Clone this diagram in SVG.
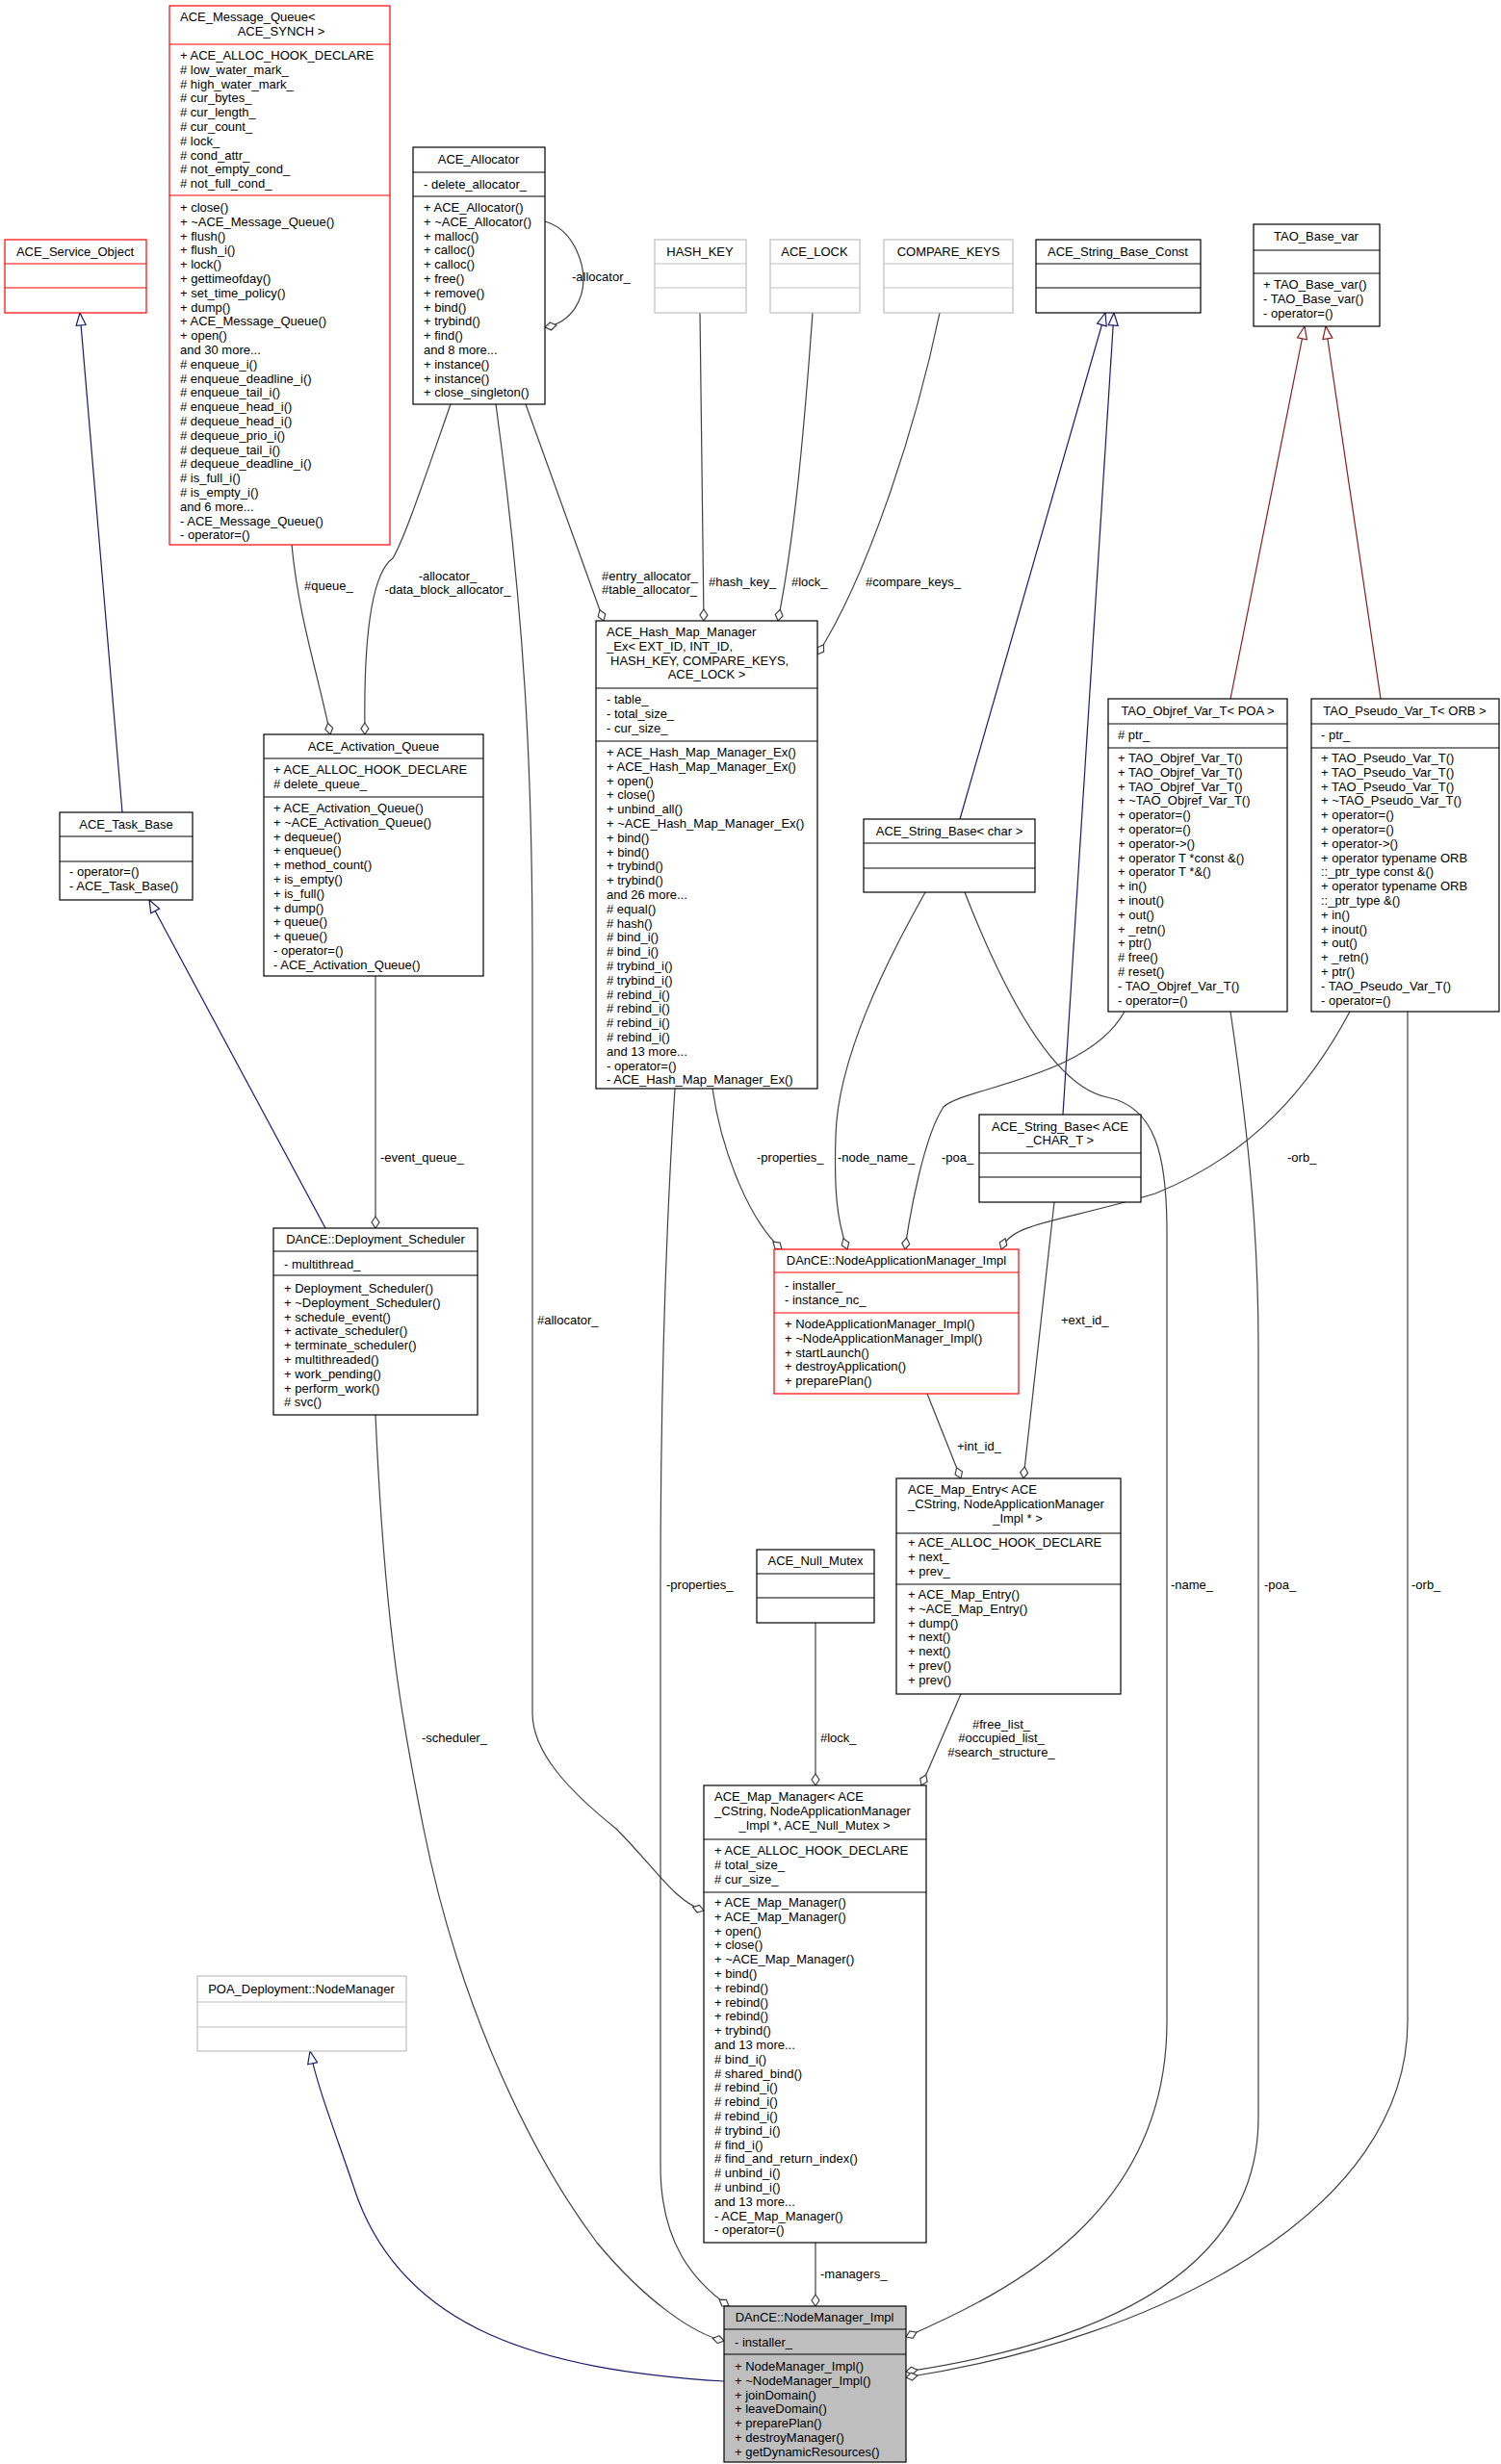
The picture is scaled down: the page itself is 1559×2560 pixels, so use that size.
<svg xmlns="http://www.w3.org/2000/svg" width="1559" height="2560" viewBox="0 0 1559 2560">
<style>
text{font-family:"Liberation Sans",Arial,sans-serif;font-size:13px;fill:#000}
.c{text-anchor:middle}
.bx{fill:#fff;stroke:#000;stroke-width:1.2}
.rd{fill:#fff;stroke:#ff0000;stroke-width:1.2}
.gr{fill:#fff;stroke:#bfbfbf;stroke-width:1.2}
.sl{stroke:#000;stroke-width:1.2}
.sr{stroke:#ff0000;stroke-width:1.2}
.sg{stroke:#bfbfbf;stroke-width:1.2}
.ag{fill:none;stroke:#404040;stroke-width:1.2;marker-end:url(#dia)}
.in{fill:none;stroke:#191970;stroke-width:1.2;marker-end:url(#tri)}
.ir{fill:none;stroke:#8b1a1a;stroke-width:1.2;marker-end:url(#trr)}
</style>
<defs>
<marker id="dia" markerUnits="userSpaceOnUse" orient="auto" refX="0" refY="0" overflow="visible" markerWidth="14" markerHeight="10"><path d="M0,0 L-6,-4 L-12,0 L-6,4 Z" fill="#fff" stroke="#404040" stroke-width="1.2"/></marker>
<marker id="tri" markerUnits="userSpaceOnUse" orient="auto" refX="0" refY="0" overflow="visible" markerWidth="14" markerHeight="10"><path d="M0,0 L-13,-5 L-13,5 Z" fill="#fff" stroke="#191970" stroke-width="1.2"/></marker>
<marker id="trr" markerUnits="userSpaceOnUse" orient="auto" refX="0" refY="0" overflow="visible" markerWidth="14" markerHeight="10"><path d="M0,0 L-13,-5 L-13,5 Z" fill="#fff" stroke="#8b1a1a" stroke-width="1.2"/></marker>
</defs>
<rect width="1559" height="2560" fill="#fff"/>

<g id="edges">
<path class="in" d="M127,844 L83,325"/>
<path class="in" d="M338,1276 L155,935"/>
<path class="in" d="M997,851 L1148,325"/>
<path class="in" d="M1104,1158 L1157,325"/>
<path class="ir" d="M1278,726 L1355,339"/>
<path class="ir" d="M1434,726 L1377,339"/>
<path class="in" d="M752,2474 C560,2462 420,2420 370,2280 C350,2220 330,2170 322,2131"/>
<path class="ag" d="M303,566 C310,640 330,700 343,763"/>
<path class="ag" d="M468,420 C440,500 420,560 408,580 C380,600 378,700 379,763"/>
<path class="ag" d="M566,230 C600,240 606,280 606,290 C606,310 595,335 566,340"/>
<path class="ag" d="M546,420 L627,645"/>
<path class="ag" d="M515,420 C545,640 553,800 553,1000 L553,1780 C553,1820 590,1860 640,1900 C680,1940 700,1975 731,1985"/>
<path class="ag" d="M727,325 L731,645"/>
<path class="ag" d="M844,325 C835,450 825,560 808,645"/>
<path class="ag" d="M976,325 C950,450 900,600 849,680"/>
<path class="ag" d="M740,1131 C750,1200 780,1270 812,1298"/>
<path class="ag" d="M701,1131 C690,1300 686,1500 686,1650 L686,2250 C686,2330 720,2370 757,2396"/>
<path class="ag" d="M961,927 C920,1000 870,1100 868,1180 C866,1240 870,1270 880,1298"/>
<path class="ag" d="M1002,927 C1050,1050 1100,1130 1150,1140 C1200,1150 1212,1200 1212,1280 L1212,2100 C1212,2300 1050,2380 941,2428"/>
<path class="ag" d="M1168,1051 C1130,1120 1000,1130 980,1150 C960,1180 945,1260 940,1298"/>
<path class="ag" d="M1278,1051 C1300,1200 1307,1300 1307,1400 L1307,2200 C1307,2380 1100,2440 941,2464"/>
<path class="ag" d="M1402,1051 C1360,1130 1300,1200 1200,1240 C1100,1270 1050,1270 1040,1298"/>
<path class="ag" d="M1462,1051 L1462,2100 C1462,2300 1200,2430 941,2470"/>
<path class="ag" d="M390,1014 L390,1276"/>
<path class="ag" d="M390,1470 C400,1700 420,1800 440,1900 C480,2100 560,2250 620,2330 C670,2390 720,2425 752,2432"/>
<path class="ag" d="M963,1448 L998,1536"/>
<path class="ag" d="M1095,1249 L1063,1536"/>
<path class="ag" d="M847,1686 L847,1855"/>
<path class="ag" d="M998,1760 L957,1855"/>
<path class="ag" d="M847,2330 L847,2396"/>
<text x="316" y="613">#queue_</text>
<text x="465" y="603" class="c">-allocator_</text>
<text x="465" y="617" class="c">-data_block_allocator_</text>
<text x="594" y="292">-allocator_</text>
<text x="625" y="603">#entry_allocator_</text>
<text x="625" y="617">#table_allocator_</text>
<text x="558" y="1376">#allocator_</text>
<text x="736" y="609">#hash_key_</text>
<text x="822" y="609">#lock_</text>
<text x="899" y="609">#compare_keys_</text>
<text x="786" y="1207">-properties_</text>
<text x="692" y="1651">-properties_</text>
<text x="870" y="1207">-node_name_</text>
<text x="1216" y="1651">-name_</text>
<text x="978" y="1207">-poa_</text>
<text x="1313" y="1651">-poa_</text>
<text x="1337" y="1207">-orb_</text>
<text x="1466" y="1651">-orb_</text>
<text x="395" y="1207">-event_queue_</text>
<text x="438" y="1810">-scheduler_</text>
<text x="994" y="1507">+int_id_</text>
<text x="1102" y="1376">+ext_id_</text>
<text x="852" y="1810">#lock_</text>
<text x="1040" y="1796" class="c">#free_list_</text>
<text x="1040" y="1810" class="c">#occupied_list_</text>
<text x="1040" y="1825" class="c">#search_structure_</text>
<text x="852" y="2367">-managers_</text>
</g>

<g id="ACE_Message_Queue">
<rect class="rd" x="176" y="6" width="229" height="560"/>
<line class="sr" x1="176" y1="46" x2="405" y2="46"/><line class="sr" x1="176" y1="203" x2="405" y2="203"/>
<text x="187" y="22">ACE_Message_Queue&lt;</text><text x="292" y="37" class="c">ACE_SYNCH &gt;</text>
<text x="187" y="62"><tspan x="187">+ ACE_ALLOC_HOOK_DECLARE</tspan><tspan x="187" dy="14.8"># low_water_mark_</tspan><tspan x="187" dy="14.8"># high_water_mark_</tspan><tspan x="187" dy="14.8"># cur_bytes_</tspan><tspan x="187" dy="14.8"># cur_length_</tspan><tspan x="187" dy="14.8"># cur_count_</tspan><tspan x="187" dy="14.8"># lock_</tspan><tspan x="187" dy="14.8"># cond_attr_</tspan><tspan x="187" dy="14.8"># not_empty_cond_</tspan><tspan x="187" dy="14.8"># not_full_cond_</tspan></text>
<text x="187" y="220"><tspan x="187">+ close()</tspan><tspan x="187" dy="14.8">+ ~ACE_Message_Queue()</tspan><tspan x="187" dy="14.8">+ flush()</tspan><tspan x="187" dy="14.8">+ flush_i()</tspan><tspan x="187" dy="14.8">+ lock()</tspan><tspan x="187" dy="14.8">+ gettimeofday()</tspan><tspan x="187" dy="14.8">+ set_time_policy()</tspan><tspan x="187" dy="14.8">+ dump()</tspan><tspan x="187" dy="14.8">+ ACE_Message_Queue()</tspan><tspan x="187" dy="14.8">+ open()</tspan><tspan x="187" dy="14.8">and 30 more...</tspan><tspan x="187" dy="14.8"># enqueue_i()</tspan><tspan x="187" dy="14.8"># enqueue_deadline_i()</tspan><tspan x="187" dy="14.8"># enqueue_tail_i()</tspan><tspan x="187" dy="14.8"># enqueue_head_i()</tspan><tspan x="187" dy="14.8"># dequeue_head_i()</tspan><tspan x="187" dy="14.8"># dequeue_prio_i()</tspan><tspan x="187" dy="14.8"># dequeue_tail_i()</tspan><tspan x="187" dy="14.8"># dequeue_deadline_i()</tspan><tspan x="187" dy="14.8"># is_full_i()</tspan><tspan x="187" dy="14.8"># is_empty_i()</tspan><tspan x="187" dy="14.8">and 6 more...</tspan><tspan x="187" dy="14.8">- ACE_Message_Queue()</tspan><tspan x="187" dy="14.8">- operator=()</tspan></text>
</g>

<g id="ACE_Service_Object">
<rect class="rd" x="5" y="249" width="147" height="76"/>
<line class="sr" x1="5" y1="274" x2="152" y2="274"/><line class="sr" x1="5" y1="299" x2="152" y2="299"/>
<text x="78" y="266" class="c">ACE_Service_Object</text>
</g>

<g id="ACE_Allocator">
<rect class="bx" x="429" y="153" width="137" height="267"/>
<line class="sl" x1="429" y1="179" x2="566" y2="179"/><line class="sl" x1="429" y1="204" x2="566" y2="204"/>
<text x="497" y="170" class="c">ACE_Allocator</text>
<text x="440" y="196">- delete_allocator_</text>
<text x="440" y="220"><tspan x="440">+ ACE_Allocator()</tspan><tspan x="440" dy="14.8">+ ~ACE_Allocator()</tspan><tspan x="440" dy="14.8">+ malloc()</tspan><tspan x="440" dy="14.8">+ calloc()</tspan><tspan x="440" dy="14.8">+ calloc()</tspan><tspan x="440" dy="14.8">+ free()</tspan><tspan x="440" dy="14.8">+ remove()</tspan><tspan x="440" dy="14.8">+ bind()</tspan><tspan x="440" dy="14.8">+ trybind()</tspan><tspan x="440" dy="14.8">+ find()</tspan><tspan x="440" dy="14.8">and 8 more...</tspan><tspan x="440" dy="14.8">+ instance()</tspan><tspan x="440" dy="14.8">+ instance()</tspan><tspan x="440" dy="14.8">+ close_singleton()</tspan></text>
</g>

<g id="HASH_KEY">
<rect class="gr" x="680" y="249" width="95" height="76"/>
<line class="sg" x1="680" y1="274" x2="775" y2="274"/><line class="sg" x1="680" y1="299" x2="775" y2="299"/>
<text x="727" y="266" class="c">HASH_KEY</text>
</g>
<g id="ACE_LOCK">
<rect class="gr" x="800" y="249" width="93" height="76"/>
<line class="sg" x1="800" y1="274" x2="893" y2="274"/><line class="sg" x1="800" y1="299" x2="893" y2="299"/>
<text x="846" y="266" class="c">ACE_LOCK</text>
</g>
<g id="COMPARE_KEYS">
<rect class="gr" x="918" y="249" width="134" height="76"/>
<line class="sg" x1="918" y1="274" x2="1052" y2="274"/><line class="sg" x1="918" y1="299" x2="1052" y2="299"/>
<text x="985" y="266" class="c">COMPARE_KEYS</text>
</g>
<g id="ACE_String_Base_Const">
<rect class="bx" x="1076" y="249" width="171" height="76"/>
<line class="sl" x1="1076" y1="274" x2="1247" y2="274"/><line class="sl" x1="1076" y1="299" x2="1247" y2="299"/>
<text x="1161" y="266" class="c">ACE_String_Base_Const</text>
</g>
<g id="TAO_Base_var">
<rect class="bx" x="1302" y="233" width="131" height="106"/>
<line class="sl" x1="1302" y1="260" x2="1433" y2="260"/><line class="sl" x1="1302" y1="284" x2="1433" y2="284"/>
<text x="1367" y="250" class="c">TAO_Base_var</text>
<text x="1312" y="300"><tspan x="1312">+ TAO_Base_var()</tspan><tspan x="1312" dy="14.8">- TAO_Base_var()</tspan><tspan x="1312" dy="14.8">- operator=()</tspan></text>
</g>

<g id="ACE_Hash_Map_Manager_Ex">
<rect class="bx" x="619" y="645" width="230" height="486"/>
<line class="sl" x1="619" y1="715" x2="849" y2="715"/><line class="sl" x1="619" y1="770" x2="849" y2="770"/>
<text x="630" y="661"><tspan x="630">ACE_Hash_Map_Manager</tspan><tspan x="630" dy="14.8">_Ex&lt; EXT_ID, INT_ID,</tspan><tspan x="634" dy="14.8">HASH_KEY, COMPARE_KEYS,</tspan></text>
<text x="734" y="705" class="c">ACE_LOCK &gt;</text>
<text x="630" y="731"><tspan x="630">- table_</tspan><tspan x="630" dy="14.8">- total_size_</tspan><tspan x="630" dy="14.8">- cur_size_</tspan></text>
<text x="630" y="786"><tspan x="630">+ ACE_Hash_Map_Manager_Ex()</tspan><tspan x="630" dy="14.8">+ ACE_Hash_Map_Manager_Ex()</tspan><tspan x="630" dy="14.8">+ open()</tspan><tspan x="630" dy="14.8">+ close()</tspan><tspan x="630" dy="14.8">+ unbind_all()</tspan><tspan x="630" dy="14.8">+ ~ACE_Hash_Map_Manager_Ex()</tspan><tspan x="630" dy="14.8">+ bind()</tspan><tspan x="630" dy="14.8">+ bind()</tspan><tspan x="630" dy="14.8">+ trybind()</tspan><tspan x="630" dy="14.8">+ trybind()</tspan><tspan x="630" dy="14.8">and 26 more...</tspan><tspan x="630" dy="14.8"># equal()</tspan><tspan x="630" dy="14.8"># hash()</tspan><tspan x="630" dy="14.8"># bind_i()</tspan><tspan x="630" dy="14.8"># bind_i()</tspan><tspan x="630" dy="14.8"># trybind_i()</tspan><tspan x="630" dy="14.8"># trybind_i()</tspan><tspan x="630" dy="14.8"># rebind_i()</tspan><tspan x="630" dy="14.8"># rebind_i()</tspan><tspan x="630" dy="14.8"># rebind_i()</tspan><tspan x="630" dy="14.8"># rebind_i()</tspan><tspan x="630" dy="14.8">and 13 more...</tspan><tspan x="630" dy="14.8">- operator=()</tspan><tspan x="630" dy="14.8">- ACE_Hash_Map_Manager_Ex()</tspan></text>
</g>

<g id="ACE_Activation_Queue">
<rect class="bx" x="274" y="763" width="228" height="251"/>
<line class="sl" x1="274" y1="788" x2="502" y2="788"/><line class="sl" x1="274" y1="828" x2="502" y2="828"/>
<text x="388" y="780" class="c">ACE_Activation_Queue</text>
<text x="284" y="804"><tspan x="284">+ ACE_ALLOC_HOOK_DECLARE</tspan><tspan x="284" dy="14.8"># delete_queue_</tspan></text>
<text x="284" y="844"><tspan x="284">+ ACE_Activation_Queue()</tspan><tspan x="284" dy="14.8">+ ~ACE_Activation_Queue()</tspan><tspan x="284" dy="14.8">+ dequeue()</tspan><tspan x="284" dy="14.8">+ enqueue()</tspan><tspan x="284" dy="14.8">+ method_count()</tspan><tspan x="284" dy="14.8">+ is_empty()</tspan><tspan x="284" dy="14.8">+ is_full()</tspan><tspan x="284" dy="14.8">+ dump()</tspan><tspan x="284" dy="14.8">+ queue()</tspan><tspan x="284" dy="14.8">+ queue()</tspan><tspan x="284" dy="14.8">- operator=()</tspan><tspan x="284" dy="14.8">- ACE_Activation_Queue()</tspan></text>
</g>

<g id="ACE_Task_Base">
<rect class="bx" x="62" y="844" width="138" height="91"/>
<line class="sl" x1="62" y1="869" x2="200" y2="869"/><line class="sl" x1="62" y1="895" x2="200" y2="895"/>
<text x="131" y="861" class="c">ACE_Task_Base</text>
<text x="72" y="910"><tspan x="72">- operator=()</tspan><tspan x="72" dy="14.8">- ACE_Task_Base()</tspan></text>
</g>

<g id="ACE_String_Base_char">
<rect class="bx" x="897" y="851" width="178" height="76"/>
<line class="sl" x1="897" y1="876" x2="1075" y2="876"/><line class="sl" x1="897" y1="902" x2="1075" y2="902"/>
<text x="986" y="868" class="c">ACE_String_Base&lt; char &gt;</text>
</g>

<g id="TAO_Objref_Var_T">
<rect class="bx" x="1151" y="726" width="186" height="325"/>
<line class="sl" x1="1151" y1="752" x2="1337" y2="752"/><line class="sl" x1="1151" y1="777" x2="1337" y2="777"/>
<text x="1244" y="743" class="c">TAO_Objref_Var_T&lt; POA &gt;</text>
<text x="1161" y="768"># ptr_</text>
<text x="1161" y="792"><tspan x="1161">+ TAO_Objref_Var_T()</tspan><tspan x="1161" dy="14.8">+ TAO_Objref_Var_T()</tspan><tspan x="1161" dy="14.8">+ TAO_Objref_Var_T()</tspan><tspan x="1161" dy="14.8">+ ~TAO_Objref_Var_T()</tspan><tspan x="1161" dy="14.8">+ operator=()</tspan><tspan x="1161" dy="14.8">+ operator=()</tspan><tspan x="1161" dy="14.8">+ operator-&gt;()</tspan><tspan x="1161" dy="14.8">+ operator T *const &amp;()</tspan><tspan x="1161" dy="14.8">+ operator T *&amp;()</tspan><tspan x="1161" dy="14.8">+ in()</tspan><tspan x="1161" dy="14.8">+ inout()</tspan><tspan x="1161" dy="14.8">+ out()</tspan><tspan x="1161" dy="14.8">+ _retn()</tspan><tspan x="1161" dy="14.8">+ ptr()</tspan><tspan x="1161" dy="14.8"># free()</tspan><tspan x="1161" dy="14.8"># reset()</tspan><tspan x="1161" dy="14.8">- TAO_Objref_Var_T()</tspan><tspan x="1161" dy="14.8">- operator=()</tspan></text>
</g>

<g id="TAO_Pseudo_Var_T">
<rect class="bx" x="1362" y="726" width="195" height="325"/>
<line class="sl" x1="1362" y1="752" x2="1557" y2="752"/><line class="sl" x1="1362" y1="777" x2="1557" y2="777"/>
<text x="1459" y="743" class="c">TAO_Pseudo_Var_T&lt; ORB &gt;</text>
<text x="1372" y="768">- ptr_</text>
<text x="1372" y="792"><tspan x="1372">+ TAO_Pseudo_Var_T()</tspan><tspan x="1372" dy="14.8">+ TAO_Pseudo_Var_T()</tspan><tspan x="1372" dy="14.8">+ TAO_Pseudo_Var_T()</tspan><tspan x="1372" dy="14.8">+ ~TAO_Pseudo_Var_T()</tspan><tspan x="1372" dy="14.8">+ operator=()</tspan><tspan x="1372" dy="14.8">+ operator=()</tspan><tspan x="1372" dy="14.8">+ operator-&gt;()</tspan><tspan x="1372" dy="14.8">+ operator typename ORB</tspan><tspan x="1372" dy="14.8">::_ptr_type const &amp;()</tspan><tspan x="1372" dy="14.8">+ operator typename ORB</tspan><tspan x="1372" dy="14.8">::_ptr_type &amp;()</tspan><tspan x="1372" dy="14.8">+ in()</tspan><tspan x="1372" dy="14.8">+ inout()</tspan><tspan x="1372" dy="14.8">+ out()</tspan><tspan x="1372" dy="14.8">+ _retn()</tspan><tspan x="1372" dy="14.8">+ ptr()</tspan><tspan x="1372" dy="14.8">- TAO_Pseudo_Var_T()</tspan><tspan x="1372" dy="14.8">- operator=()</tspan></text>
</g>

<g id="ACE_String_Base_ACE_CHAR_T">
<rect class="bx" x="1017" y="1158" width="168" height="91"/>
<line class="sl" x1="1017" y1="1198" x2="1185" y2="1198"/><line class="sl" x1="1017" y1="1223" x2="1185" y2="1223"/>
<text x="1101" y="1175" class="c">ACE_String_Base&lt; ACE</text>
<text x="1101" y="1189" class="c">_CHAR_T &gt;</text>
</g>

<g id="Deployment_Scheduler">
<rect class="bx" x="284" y="1276" width="212" height="194"/>
<line class="sl" x1="284" y1="1300" x2="496" y2="1300"/><line class="sl" x1="284" y1="1325" x2="496" y2="1325"/>
<text x="390" y="1292" class="c">DAnCE::Deployment_Scheduler</text>
<text x="295" y="1318">- multithread_</text>
<text x="295" y="1343"><tspan x="295">+ Deployment_Scheduler()</tspan><tspan x="295" dy="14.8">+ ~Deployment_Scheduler()</tspan><tspan x="295" dy="14.8">+ schedule_event()</tspan><tspan x="295" dy="14.8">+ activate_scheduler()</tspan><tspan x="295" dy="14.8">+ terminate_scheduler()</tspan><tspan x="295" dy="14.8">+ multithreaded()</tspan><tspan x="295" dy="14.8">+ work_pending()</tspan><tspan x="295" dy="14.8">+ perform_work()</tspan><tspan x="295" dy="14.8"># svc()</tspan></text>
</g>

<g id="NodeApplicationManager_Impl">
<rect class="rd" x="804" y="1298" width="254" height="150"/>
<line class="sr" x1="804" y1="1322" x2="1058" y2="1322"/><line class="sr" x1="804" y1="1364" x2="1058" y2="1364"/>
<text x="931" y="1314" class="c">DAnCE::NodeApplicationManager_Impl</text>
<text x="815" y="1340"><tspan x="815">- installer_</tspan><tspan x="815" dy="14.8">- instance_nc_</tspan></text>
<text x="815" y="1380"><tspan x="815">+ NodeApplicationManager_Impl()</tspan><tspan x="815" dy="14.8">+ ~NodeApplicationManager_Impl()</tspan><tspan x="815" dy="14.8">+ startLaunch()</tspan><tspan x="815" dy="14.8">+ destroyApplication()</tspan><tspan x="815" dy="14.8">+ preparePlan()</tspan></text>
</g>

<g id="ACE_Map_Entry">
<rect class="bx" x="931" y="1536" width="233" height="224"/>
<line class="sl" x1="931" y1="1593" x2="1164" y2="1593"/><line class="sl" x1="931" y1="1646" x2="1164" y2="1646"/>
<text x="943" y="1552"><tspan x="943">ACE_Map_Entry&lt; ACE</tspan><tspan x="943" dy="14.8">_CString, NodeApplicationManager</tspan></text>
<text x="1057" y="1582" class="c">_Impl * &gt;</text>
<text x="943" y="1607"><tspan x="943">+ ACE_ALLOC_HOOK_DECLARE</tspan><tspan x="943" dy="14.8">+ next_</tspan><tspan x="943" dy="14.8">+ prev_</tspan></text>
<text x="943" y="1661"><tspan x="943">+ ACE_Map_Entry()</tspan><tspan x="943" dy="14.8">+ ~ACE_Map_Entry()</tspan><tspan x="943" dy="14.8">+ dump()</tspan><tspan x="943" dy="14.8">+ next()</tspan><tspan x="943" dy="14.8">+ next()</tspan><tspan x="943" dy="14.8">+ prev()</tspan><tspan x="943" dy="14.8">+ prev()</tspan></text>
</g>

<g id="ACE_Null_Mutex">
<rect class="bx" x="786" y="1610" width="122" height="76"/>
<line class="sl" x1="786" y1="1635" x2="908" y2="1635"/><line class="sl" x1="786" y1="1660" x2="908" y2="1660"/>
<text x="847" y="1626" class="c">ACE_Null_Mutex</text>
</g>

<g id="ACE_Map_Manager">
<rect class="bx" x="731" y="1855" width="231" height="475"/>
<line class="sl" x1="731" y1="1911" x2="962" y2="1911"/><line class="sl" x1="731" y1="1966" x2="962" y2="1966"/>
<text x="742" y="1871"><tspan x="742">ACE_Map_Manager&lt; ACE</tspan><tspan x="742" dy="14.8">_CString, NodeApplicationManager</tspan></text>
<text x="846" y="1901" class="c">_Impl *, ACE_Null_Mutex &gt;</text>
<text x="742" y="1927"><tspan x="742">+ ACE_ALLOC_HOOK_DECLARE</tspan><tspan x="742" dy="14.8"># total_size_</tspan><tspan x="742" dy="14.8"># cur_size_</tspan></text>
<text x="742" y="1981"><tspan x="742">+ ACE_Map_Manager()</tspan><tspan x="742" dy="14.8">+ ACE_Map_Manager()</tspan><tspan x="742" dy="14.8">+ open()</tspan><tspan x="742" dy="14.8">+ close()</tspan><tspan x="742" dy="14.8">+ ~ACE_Map_Manager()</tspan><tspan x="742" dy="14.8">+ bind()</tspan><tspan x="742" dy="14.8">+ rebind()</tspan><tspan x="742" dy="14.8">+ rebind()</tspan><tspan x="742" dy="14.8">+ rebind()</tspan><tspan x="742" dy="14.8">+ trybind()</tspan><tspan x="742" dy="14.8">and 13 more...</tspan><tspan x="742" dy="14.8"># bind_i()</tspan><tspan x="742" dy="14.8"># shared_bind()</tspan><tspan x="742" dy="14.8"># rebind_i()</tspan><tspan x="742" dy="14.8"># rebind_i()</tspan><tspan x="742" dy="14.8"># rebind_i()</tspan><tspan x="742" dy="14.8"># trybind_i()</tspan><tspan x="742" dy="14.8"># find_i()</tspan><tspan x="742" dy="14.8"># find_and_return_index()</tspan><tspan x="742" dy="14.8"># unbind_i()</tspan><tspan x="742" dy="14.8"># unbind_i()</tspan><tspan x="742" dy="14.8">and 13 more...</tspan><tspan x="742" dy="14.8">- ACE_Map_Manager()</tspan><tspan x="742" dy="14.8">- operator=()</tspan></text>
</g>

<g id="POA_Deployment_NodeManager">
<rect class="gr" x="205" y="2053" width="217" height="78"/>
<line class="sg" x1="205" y1="2080" x2="422" y2="2080"/><line class="sg" x1="205" y1="2106" x2="422" y2="2106"/>
<text x="313" y="2071" class="c">POA_Deployment::NodeManager</text>
</g>

<g id="NodeManager_Impl">
<rect x="752" y="2396" width="189" height="162" fill="#bfbfbf" stroke="#000" stroke-width="1.2"/>
<line class="sl" x1="752" y1="2420" x2="941" y2="2420"/><line class="sl" x1="752" y1="2446" x2="941" y2="2446"/>
<text x="846" y="2412" class="c">DAnCE::NodeManager_Impl</text>
<text x="763" y="2438">- installer_</text>
<text x="763" y="2463"><tspan x="763">+ NodeManager_Impl()</tspan><tspan x="763" dy="14.8">+ ~NodeManager_Impl()</tspan><tspan x="763" dy="14.8">+ joinDomain()</tspan><tspan x="763" dy="14.8">+ leaveDomain()</tspan><tspan x="763" dy="14.8">+ preparePlan()</tspan><tspan x="763" dy="14.8">+ destroyManager()</tspan><tspan x="763" dy="14.8">+ getDynamicResources()</tspan></text>
</g>
</svg>
